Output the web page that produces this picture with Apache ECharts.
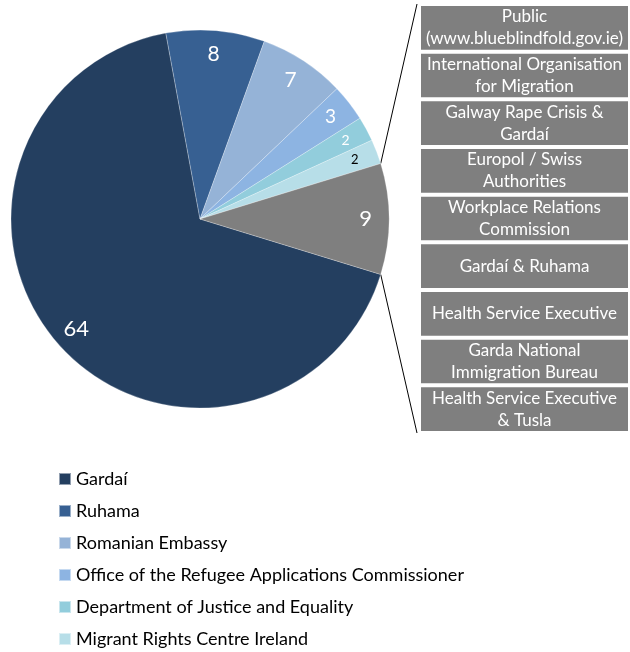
<!DOCTYPE html>
<html>
<head>
<meta charset="utf-8">
<script src="https://cdn.jsdelivr.net/npm/echarts@6/dist/echarts.min.js"></script>
<style>
  html, body { margin: 0; padding: 0; background: #fff; }
  #chart { width: 630px; height: 652px; }
</style>
</head>
<body>
<div id="chart"></div>
<script>
// 饼图部分
const pieNames = [
  "Gardaí",
  "Ruhama",
  "Romanian Embassy",
  "Office of the Refugee Applications Commissioner",
  "Department of Justice and Equality",
  "Migrant Rights Centre Ireland",
];
const pieValues = [64, 8, 7, 3, 2, 2];
const pieColors = ["#243F60", "#376092", "#95B3D7", "#8DB4E2", "#92CDDC", "#B7DEE8"];

// 右侧堆叠柱 (Other)
const otherNames = [
  "Public\n(www.blueblindfold.gov.ie)",
  "International Organisation\nfor Migration",
  "Galway Rape Crisis &\nGardaí",
  "Europol / Swiss\nAuthorities",
  "Workplace Relations\nCommission",
  "Gardaí & Ruhama",
  "Health Service Executive",
  "Garda National\nImmigration Bureau",
  "Health Service Executive\n& Tusla",
];
const otherValues = [1, 1, 1, 1, 1, 1, 1, 1, 1];
const otherColor = "#7F7F7F";

const FONT = "Lato, 'Open Sans', sans-serif";
const cx = 200, cy = 219, R = 189; // 饼图位置
const barLeft = 419, barTop = 4, barHeight = 429, barWidth = 217;

const otherTotal = otherValues.reduce((a, b) => a + b, 0);
const total = pieValues.reduce((a, b) => a + b, 0) + otherTotal;
const halfAngle = (otherTotal / total) * 180; // Other 扇区的一半角度

const pieData = pieNames.map((name, i) => ({
  name,
  value: pieValues[i],
  itemStyle: { color: pieColors[i] },
}));
pieData.push({ name: "Other", value: otherTotal, itemStyle: { color: otherColor } });

// 标签字号/颜色
const labelSizes = [22, 21, 21, 19, 14, 13, 22];
const labelColors = ["#fff", "#fff", "#fff", "#fff", "#fff", "#000", "#fff"];
const labelData = pieData.map((d, i) => ({
  name: d.name,
  value: d.value,
  label: { fontSize: labelSizes[i], color: labelColors[i] },
}));

// 堆叠顺序从下往上
const barSeries = otherNames
  .map((name, i) => ({
    name,
    type: "bar",
    stack: "other",
    data: [otherValues[i]],
    barWidth: "100%",
    silent: true,
    itemStyle: { color: otherColor, borderColor: "#fff", borderWidth: 2 },
    label: {
      show: true,
      position: "inside",
      formatter: "{a}",
      color: "#fff",
      fontFamily: FONT,
      fontSize: 17,
      lineHeight: 22,
    },
  }))
  .reverse();

const rad = (halfAngle * Math.PI) / 180;
const pTop = [cx + R * Math.cos(rad), cy - R * Math.sin(rad)];
const pBot = [cx + R * Math.cos(rad), cy + R * Math.sin(rad)];

const chart = echarts.init(document.getElementById("chart"));
chart.setOption({
  animation: false,
  legend: {
    data: pieNames,
    orient: "vertical",
    left: 58,
    top: 469,
    padding: 0,
    itemWidth: 12,
    itemHeight: 12,
    itemGap: 12,
    icon: "rect",
    textStyle: { fontFamily: FONT, fontSize: 18, color: "#000", lineHeight: 20 },
    selectedMode: false,
  },
  grid: { left: barLeft, top: barTop, width: barWidth, height: barHeight },
  xAxis: { type: "category", data: ["Other"], show: false },
  yAxis: { type: "value", min: 0, max: otherTotal, show: false },
  graphic: [
    {
      type: "line",
      shape: { x1: pTop[0], y1: pTop[1], x2: barLeft - 2, y2: barTop },
      style: { stroke: "#000", lineWidth: 1 },
    },
    {
      type: "line",
      shape: { x1: pBot[0], y1: pBot[1], x2: barLeft - 2, y2: barTop + barHeight },
      style: { stroke: "#000", lineWidth: 1 },
    },
  ],
  series: [
    {
      type: "pie",
      center: [cx, cy],
      radius: [0, R],
      startAngle: 360 - halfAngle,
      silent: true,
      data: pieData,
      label: { show: false },
      labelLine: { show: false },
      itemStyle: { borderColor: "rgba(255,255,255,0.5)", borderWidth: 0.5 },
    },
    {
      // 只用来放标签
      type: "pie",
      center: [cx, cy],
      radius: [R * 0.72, R],
      startAngle: 360 - halfAngle,
      silent: true,
      data: labelData,
      itemStyle: { color: "rgba(0,0,0,0)" },
      label: { show: true, position: "inside", formatter: "{c}", fontFamily: FONT },
      labelLine: { show: false },
      emphasis: { disabled: true },
    },
    ...barSeries,
  ],
});
</script>
</body>
</html>
